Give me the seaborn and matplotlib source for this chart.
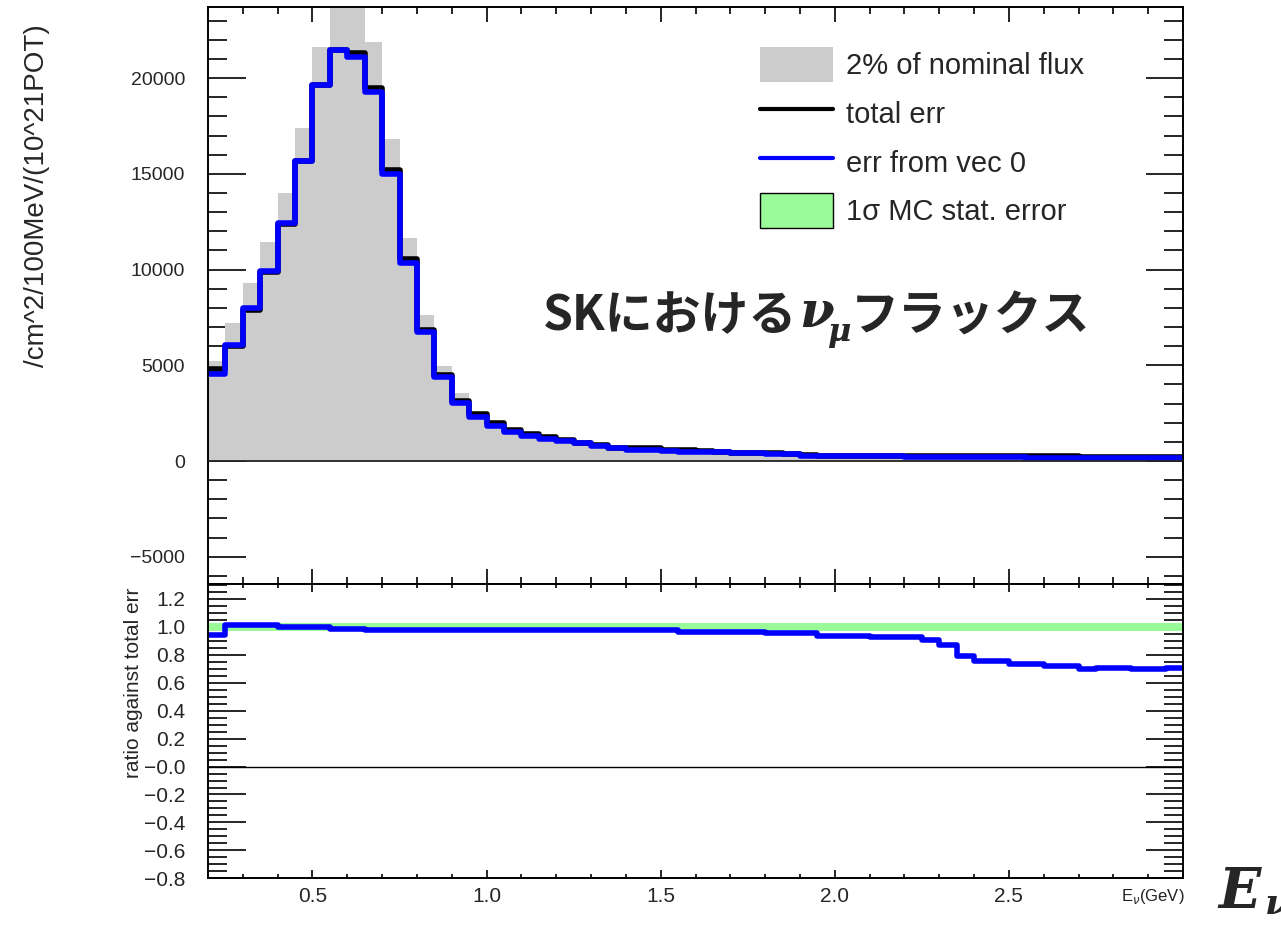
import numpy as np
import pandas as pd
import matplotlib
matplotlib.use("Agg")
import matplotlib.pyplot as plt
import matplotlib.patches as mpatches
from matplotlib.lines import Line2D
from matplotlib.ticker import MultipleLocator, FixedLocator
import seaborn as sns

# neutrino energy bins (GeV), 50 MeV wide from 0.2 to 3.0
edges = np.round(np.arange(0.2, 3.0001, 0.05), 2)
centers = (edges[:-1] + edges[1:]) / 2
bins = edges.tolist()

# 2% of nominal flux (grey histogram)
nominal_2pct = [5240, 7220, 9310, 11450, 13980, 17410, 21640, 24900, 24700, 21900,
                16850, 11630, 7620, 4980, 3530, 2580, 2110, 1720, 1480, 1300,
                1150, 1010, 880, 780, 720, 690, 610, 570, 530, 500,
                470, 450, 430, 410, 330, 310, 250, 240, 230, 225,
                220, 215, 210, 205, 200, 195, 190, 185, 180, 175,
                170, 165, 160, 155, 150, 145]
# total error
total_err = [4790, 6000, 7900, 9850, 12400, 15700, 19650, 21480, 21320, 19510,
             15230, 10530, 6840, 4490, 3130, 2440, 1970, 1620, 1420, 1240,
             1100, 960, 840, 700, 690, 680, 570, 560, 500, 480,
             440, 420, 400, 385, 300, 280, 275, 270, 265, 262,
             260, 257, 255, 252, 250, 248, 245, 243, 240, 238,
             235, 233, 230, 228, 225, 222]
# error from eigenvector 0
vec0_err = [4530, 6060, 7970, 9940, 12410, 15680, 19630, 21460, 21110, 19280,
            15020, 10320, 6720, 4400, 3010, 2280, 1830, 1530, 1310, 1130,
            1040, 920, 800, 660, 600, 590, 540, 480, 460, 450,
            410, 400, 390, 370, 280, 260, 255, 250, 245, 240,
            235, 230, 225, 215, 200, 190, 185, 180, 175, 172,
            170, 168, 165, 162, 160, 158]
# ratio vec0 / total
ratio = [0.942, 1.016, 1.016, 1.016, 0.997, 0.997, 0.997, 0.987, 0.987, 0.976,
         0.976, 0.976, 0.976, 0.976, 0.976, 0.976, 0.976, 0.976, 0.976, 0.976,
         0.976, 0.976, 0.976, 0.976, 0.976, 0.976, 0.976, 0.966, 0.966, 0.966,
         0.966, 0.966, 0.954, 0.954, 0.954, 0.937, 0.937, 0.937, 0.928, 0.928,
         0.928, 0.906, 0.870, 0.794, 0.758, 0.758, 0.734, 0.734, 0.718, 0.718,
         0.696, 0.708, 0.708, 0.696, 0.696, 0.708]
mc_stat_err = 0.03

x_ticks = [0.5, 1.0, 1.5, 2.0, 2.5]
x_ticklabels = ["0.5", "1.0", "1.5", "2.0", "2.5"]
ratio_ticks = [-0.8, -0.6, -0.4, -0.2, 0.0, 0.2, 0.4, 0.6, 0.8, 1.0, 1.2]
ratio_ticklabels = ["\u22120.8", "\u22120.6", "\u22120.4", "\u22120.2", "\u22120.0",
                    "0.2", "0.4", "0.6", "0.8", "1.0", "1.2"]

df = pd.DataFrame({"E": centers, "nominal": nominal_2pct, "total": total_err,
                   "vec0": vec0_err, "ratio": ratio})

sns.set_style("ticks")
plt.rcParams["font.family"] = ["Liberation Sans", "DejaVu Sans"]

W, H = 1281, 927
fig = plt.figure(figsize=(W / 100, H / 100), dpi=100)
ax1 = fig.add_axes([208 / W, 1 - 584.3 / H, 975 / W, (584.3 - 7) / H])
ax2 = fig.add_axes([208 / W, 1 - 878.3 / H, 975 / W, (878.3 - 584.3) / H])

# top panel
sns.histplot(data=df, x="E", weights="nominal", bins=bins, element="step", fill=True,
             color="#cccccc", alpha=1, linewidth=0, ax=ax1)
ax1.axhline(0, color="#222222", lw=1.3, zorder=3)
sns.histplot(data=df, x="E", weights="total", bins=bins, element="step", fill=False,
             color="black", linewidth=4, ax=ax1)
sns.histplot(data=df, x="E", weights="vec0", bins=bins, element="step", fill=False,
             color="#0000ff", linewidth=4, ax=ax1)
ax1.set_xlim(0.2, 3.0)
ax1.set_ylim(-6440, 23720)
ax1.yaxis.set_major_locator(MultipleLocator(5000))
ax1.yaxis.set_minor_locator(MultipleLocator(1000))
ax1.xaxis.set_major_locator(FixedLocator(x_ticks))
ax1.xaxis.set_minor_locator(MultipleLocator(0.1))
ax1.tick_params(axis="x", which="both", labelbottom=False)
ax1.tick_params(axis="x", which="major", length=10.8)
ax1.tick_params(axis="x", which="minor", length=5)
ax1.set_xlabel("")
ax1.set_ylabel("/cm^2/100MeV/(10^21POT)", fontsize=20)
ax1.yaxis.set_label_coords(-0.162, 0.674)

handles = [mpatches.Patch(facecolor="#cccccc", edgecolor="none"),
           Line2D([], [], color="black", lw=3),
           Line2D([], [], color="#0000ff", lw=3),
           mpatches.Patch(facecolor="#98fb98", edgecolor="black", lw=1)]
labels = ["2% of nominal flux", "total err", "err from vec 0", "1\u03c3 MC stat. error"]
ax1.legend(handles, labels, loc="upper left", bbox_to_anchor=(760 / W, 1 - 47 / H),
           bbox_transform=fig.transFigure, frameon=False, fontsize=21,
           handlelength=2.5, handleheight=1.47, handletextpad=0.45,
           labelspacing=0.47, borderpad=0, borderaxespad=0)

# ratio panel
ax2.axhspan(1 - mc_stat_err, 1 + mc_stat_err, color="#98fb98", lw=0)
ax2.axhline(0, color="black", lw=1)
sns.histplot(data=df, x="E", weights="ratio", bins=bins, element="step", fill=False,
             color="#0000ff", linewidth=4, ax=ax2)
ax2.set_xlim(0.2, 3.0)
ax2.set_ylim(-0.8, 1.305)
ax2.yaxis.set_major_locator(FixedLocator(ratio_ticks))
ax2.set_yticklabels(ratio_ticklabels)
ax2.yaxis.set_minor_locator(MultipleLocator(0.05))
ax2.xaxis.set_major_locator(FixedLocator(x_ticks))
ax2.set_xticklabels(x_ticklabels)
ax2.xaxis.set_minor_locator(MultipleLocator(0.1))
ax2.tick_params(axis="x", which="major", length=5.8, labelsize=15, pad=6)
ax2.tick_params(axis="x", which="minor", length=2.9)
ax2.tick_params(axis="y", labelsize=15)
ax2.set_xlabel("")
ax2.set_ylabel("ratio against total err", fontsize=15)
ax2.yaxis.set_label_coords(-0.0667, 0.666)

for ax in (ax1, ax2):
    ax.tick_params(which="both", direction="in", top=True, right=True, width=1.2,
                   color="black")
    ax.tick_params(axis="y", which="major", length=27, pad=16.5)
    ax.tick_params(axis="y", which="minor", length=13.7)
    for s in ax.spines.values():
        s.set_linewidth(1.4)
        s.set_color("black")
ax1.tick_params(axis="y", labelsize=14)

fig.text(1185 / W, 1 - 897 / H, r"E$_{\nu}$(GeV)", fontsize=12, ha="right", va="center",
         color="#222222")

# overlay annotations
jp = ["Noto Sans CJK JP", "DejaVu Sans"]
fig.text(543 / W, 1 - 316 / H, "SKにおける", fontsize=34.5, fontweight="bold",
         family=jp, ha="left", va="center")
fig.text(799 / W, 1 - 327 / H, "\u03bd", fontsize=36, fontweight="bold",
         fontstyle="italic", family="DejaVu Serif", ha="left", va="baseline")
fig.text(828 / W, 1 - 341 / H, "\u03bc", fontsize=23, fontweight="bold",
         fontstyle="italic", family="DejaVu Serif", ha="left", va="baseline")
fig.text(1090 / W, 1 - 316 / H, "フラックス", fontsize=34.5, fontweight="bold",
         family=jp, ha="right", va="center")
fig.text(1218 / W, 1 - 908 / H, "E", fontsize=40, fontweight="bold",
         fontstyle="italic", family="DejaVu Serif", ha="left", va="baseline")
fig.text(1265 / W, 1 - 914 / H, "\u03bd", fontsize=26, fontweight="bold",
         fontstyle="italic", family="DejaVu Serif", ha="left", va="baseline")

fig.savefig("out.png", dpi=100)
